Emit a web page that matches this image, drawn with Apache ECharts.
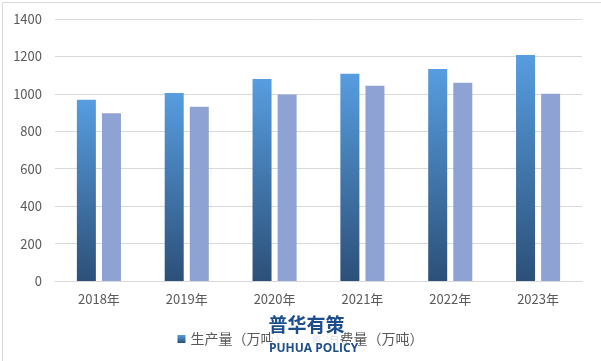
<!DOCTYPE html>
<html><head><meta charset="utf-8">
<script src="https://cdn.jsdelivr.net/npm/echarts@6/dist/echarts.min.js"></script>
<style>html,body{margin:0;padding:0;background:#fff}#c{width:601px;height:361px}</style>
</head><body><div id="c"></div>
<script>
const categories = ['2018年','2019年','2020年','2021年','2022年','2023年'];
const production = [968, 1005, 1080, 1108, 1133, 1208];
const consumption = [897, 931, 996, 1043, 1059, 1000];
const seriesNames = ['生产量（万吨）','消费量（万吨）'];
const yTicks = {min: 0, max: 1400, interval: 200};

const chart = echarts.init(document.getElementById('c'), null, {renderer: 'canvas'});
const font = '"Noto Sans CJK SC", "Microsoft YaHei", sans-serif';
const prodGrad = new echarts.graphic.LinearGradient(0,0,0,1,[{offset:0,color:'#579de0'},{offset:1,color:'#2c5078'}]);
chart.setOption({
  animation: false,
  backgroundColor: '#fff',
  grid: {left: 55, right: 19, top: 19, bottom: 80, containLabel: false},
  legend: {
    data: seriesNames, top: 327, left: 'center', itemWidth: 8, itemHeight: 8, itemGap: 24,
    icon: 'rect',
    textStyle: {color: '#595959', fontSize: 14, fontFamily: font}
  },
  xAxis: {
    type: 'category', data: categories,
    axisLine: {lineStyle: {color: '#d9d9d9'}},
    axisTick: {show: false},
    axisLabel: {color: '#595959', fontSize: 13, fontFamily: font, margin: 12}
  },
  yAxis: {
    type: 'value', min: yTicks.min, max: yTicks.max, interval: yTicks.interval,
    axisLine: {show: false}, axisTick: {show: false},
    splitLine: {lineStyle: {color: '#d9d9d9'}},
    axisLabel: {color: '#595959', fontSize: 13, fontFamily: font, margin: 13, formatter: v => String(v)}
  },
  series: [
    {name: seriesNames[0], type: 'bar', data: production, barWidth: 19, barGap: '32%',
     itemStyle: {color: prodGrad}},
    {name: seriesNames[1], type: 'bar', data: consumption, barWidth: 19,
     itemStyle: {color: '#8ea2d3'}}
  ],
  graphic: [
    {type: 'rect', left: 0, top: 0, z: 100, silent: true,
     shape: {x: 0.5, y: 0.5, width: 599, height: 359},
     style: {fill: 'none', stroke: '#d9d9d9', lineWidth: 1}},
    {type: 'rect', left: 272, top: 327, z: 105, silent: true,
     shape: {width: 68, height: 20},
     style: {fill: 'rgba(255,255,255,0.85)'}},
    {type: 'text', left: 267, top: 314, z: 110,
     style: {text: '普华有策', fill: '#1d4d8c', font: 'bold 19px ' + font, stroke: '#fff', lineWidth: 3}},
    {type: 'text', left: 268, top: 342, z: 110,
     style: {text: 'PUHUA POLICY', fill: '#1d4d8c', font: 'bold 12px "Open Sans", sans-serif', stroke: '#fff', lineWidth: 2}}
  ]
});
</script></body></html>
